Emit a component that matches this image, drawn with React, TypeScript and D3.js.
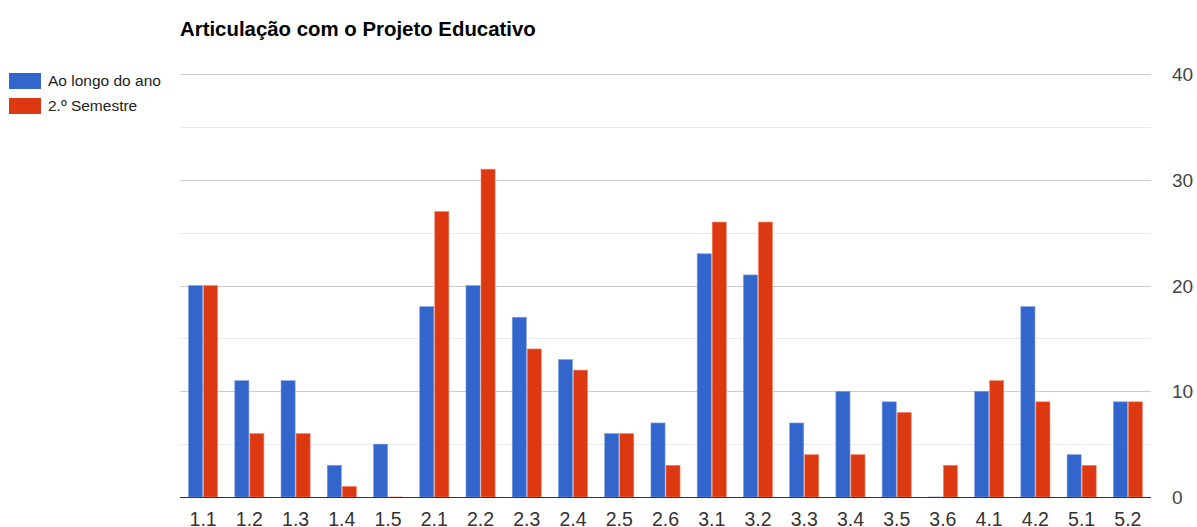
import React from "react";
import * as d3 from "d3";

const categories = ["1.1","1.2","1.3","1.4","1.5","2.1","2.2","2.3","2.4","2.5","2.6","3.1","3.2","3.3","3.4","3.5","3.6","4.1","4.2","5.1","5.2"];
const seriesNames = ["Ao longo do ano", "2.º Semestre"];
const aoLongo = [20,11,11,3,5,18,20,17,13,6,7,23,21,7,10,9,0,10,18,4,9];
const semestre2 = [20,6,6,1,0,27,31,14,12,6,3,26,26,4,4,8,3,11,9,3,9];
const yTicks = [0,10,20,30,40];
const yMinorTicks = [5,15,25,35];
const colors = ["#3366cc", "#dc3912"];
const borders = ["#7f9fe0", "#f08a70"];

const W = 1197, H = 527;
const left = 180, right = 1151, top = 74, bottom = 497;

export default function App() {
  const x = d3.scaleBand<string>().domain(categories).range([left, right]).paddingInner(0.37).paddingOuter(0.185);
  const xs = d3.scaleBand<number>().domain([0, 1]).range([0, x.bandwidth()]).paddingInner(0.06);
  const y = d3.scaleLinear().domain([0, 40]).range([bottom, top]);
  const data = [aoLongo, semestre2];
  return (
    <svg width={W} height={H} style={{ position: "absolute", left: 0, top: 0, fontFamily: "Arial, 'Liberation Sans', sans-serif" }}>
      <rect width={W} height={H} fill="#fff" />
      <text x={180} y={36} fontSize={20.4} fontWeight="bold" fill="#000">Articulação com o Projeto Educativo</text>
      {seriesNames.map((n, i) => (
        <g key={n} transform={`translate(9,${73 + i * 25})`}>
          <rect width={32} height={16} fill={colors[i]} />
          <text x={39} y={13} fontSize={15.5} fill="#222">{n}</text>
        </g>
      ))}
      {yMinorTicks.map(t => (
        <line key={"m" + t} x1={left} x2={right} y1={Math.round(y(t)) + 0.5} y2={Math.round(y(t)) + 0.5} stroke="#ebebeb" />
      ))}
      {yTicks.filter(t => t > 0).map(t => (
        <line key={"g" + t} x1={left} x2={right} y1={Math.round(y(t)) + 0.5} y2={Math.round(y(t)) + 0.5} stroke="#cccccc" />
      ))}
      {yTicks.map(t => (
        <text key={"t" + t} x={1172} y={y(t) + 7} fontSize={19} fill="#444">{t}</text>
      ))}
      {categories.map((c, ci) => (
        <g key={c}>
          {data.map((s, si) => {
            const v = s[ci];
            const bx = (x(c) as number) + (xs(si) as number);
            const by = v === 0 ? bottom - 1 : y(v);
            return (
              <rect key={si} x={bx} y={by} width={xs.bandwidth()} height={bottom - by}
                fill={v === 0 ? borders[si] : colors[si]} fillOpacity={v === 0 ? 0.4 : 1}
                stroke={v === 0 ? "none" : borders[si]} strokeWidth={0.6} />
            );
          })}
          <text x={(x(c) as number) + x.bandwidth() / 2} y={526} fontSize={19.5} fill="#333" textAnchor="middle">{c}</text>
        </g>
      ))}
      <line x1={left} x2={right} y1={bottom + 0.5} y2={bottom + 0.5} stroke="#333" strokeWidth={1.2} />
    </svg>
  );
}
